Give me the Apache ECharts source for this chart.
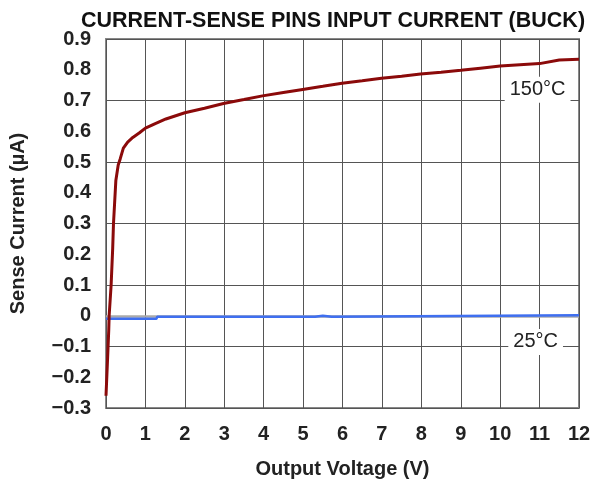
<!DOCTYPE html>
<html>
<head>
<meta charset="utf-8">
<script src="https://cdn.jsdelivr.net/npm/echarts@6/dist/echarts.min.js"></script>
<style>
  html, body { margin: 0; padding: 0; background: #fff; }
  #main { width: 595px; height: 479px; }
</style>
</head>
<body>
<div id="main"></div>
<script>
// 150°C curve (output voltage V, sense current uA)
var hotV = [0.0, 0.04, 0.07, 0.08, 0.13, 0.17, 0.19, 0.22, 0.25, 0.31, 0.36, 0.44, 0.55, 0.68, 0.85, 1.0, 1.25, 1.52, 2.0, 2.5, 2.98, 3.5, 3.97, 4.5, 4.99, 5.5, 5.99, 6.5, 6.99, 7.5, 7.98, 8.5, 9.0, 9.5, 10.0, 10.5, 11.0, 11.5, 12.0];
var hotI = [-0.26, -0.14, -0.045, 0.0, 0.1, 0.22, 0.30, 0.37, 0.44, 0.49, 0.51, 0.545, 0.565, 0.58, 0.595, 0.61, 0.625, 0.64, 0.66, 0.675, 0.69, 0.703, 0.715, 0.726, 0.736, 0.746, 0.756, 0.764, 0.772, 0.779, 0.786, 0.792, 0.798, 0.805, 0.812, 0.816, 0.82, 0.832, 0.834];

// 25°C curve
var roomV = [0.0, 1.28, 1.3, 5.1, 5.3, 5.5, 5.73, 12.0];
var roomI = [-0.01, -0.01, -0.003, -0.003, 0.0, -0.003, 0.002, 0.002];

var xTicks = [0, 1, 2, 3, 4, 5, 6, 7, 8, 9, 10, 11, 12];

function pairs(a, b) { return a.map(function (v, i) { return [v, b[i]]; }); }

var fontFam = '"Liberation Sans", Arial, sans-serif';

var chart = echarts.init(document.getElementById('main'));
chart.setOption({
  animation: false,
  title: {
    text: 'CURRENT-SENSE PINS INPUT CURRENT (BUCK)',
    left: 328, top: 5, textAlign: 'center',
    textStyle: { fontFamily: fontFam, fontWeight: 'bold', fontSize: 21.5, color: '#111' }
  },
  grid: { left: 106, right: 16, top: 39, bottom: 71, show: true, borderColor: '#888', borderWidth: 2,
    outerBoundsMode: 'none', containLabel: false },
  xAxis: {
    type: 'value', min: 0, max: 12, interval: 1,
    name: 'Output Voltage (V)', nameLocation: 'middle', nameGap: 51,
    nameTextStyle: { fontFamily: fontFam, fontWeight: 'bold', fontSize: 20, color: '#222' },
    axisLine: { show: false }, axisTick: { show: false },
    axisLabel: { fontFamily: fontFam, fontWeight: 'bold', fontSize: 20, color: '#222', margin: 16,
      alignMinLabel: 'center', alignMaxLabel: 'center',
      formatter: function (v) { return xTicks.indexOf(v) >= 0 ? String(v) : ''; } },
    splitLine: { show: true, lineStyle: { color: '#555', width: 1 } }
  },
  yAxis: [
    {
      type: 'value', min: -0.3, max: 0.9, interval: 0.1,
      name: 'Sense Current (µA)', nameLocation: 'middle', nameGap: 78, nameRotate: 90,
      nameTextStyle: { fontFamily: fontFam, fontWeight: 'bold', fontSize: 20, color: '#222' },
      axisLine: { show: false }, axisTick: { show: false },
      axisLabel: { fontFamily: fontFam, fontWeight: 'bold', fontSize: 20, color: '#222', margin: 15,
        formatter: function (v) {
          var r = Math.round(v * 10) / 10;
          if (r === 0) return '0';
          return (r < 0 ? '\u2212' : '') + Math.abs(r).toFixed(1);
        } },
      splitLine: { show: false }
    },
    {
      // gridlines every 0.2 counted from -0.3 -> -0.1, 0.1, 0.3, 0.5, 0.7
      type: 'value', min: -0.3, max: 0.9, interval: 0.2, position: 'left',
      axisLine: { show: false }, axisTick: { show: false }, axisLabel: { show: false },
      splitLine: { show: true, lineStyle: { color: '#555', width: 1 } }
    }
  ],
  series: [
    {
      name: 'zero', type: 'line', data: [], silent: true,
      markLine: {
        silent: true, symbol: 'none', label: { show: false },
        lineStyle: { color: '#aaa', width: 2.5, type: 'solid' },
        data: [{ yAxis: 0 }]
      }
    },
    {
      name: '25°C', type: 'line', data: pairs(roomV, roomI), showSymbol: false, step: 'end',
      lineStyle: { color: '#3f6ff0', width: 2.5 }, z: 5,
      markPoint: {
        symbolSize: 0,
        label: { show: true, position: 'inside', formatter: '25°C', fontFamily: fontFam, fontSize: 20, color: '#222',
          backgroundColor: '#fff', padding: [3, 5] },
        data: [{ coord: [10.9, -0.085] }]
      }
    },
    {
      name: '150°C', type: 'line', data: pairs(hotV, hotI), showSymbol: false,
      lineStyle: { color: '#8b0a0a', width: 3 }, z: 6,
      markPoint: {
        symbolSize: 0,
        label: { show: true, position: 'inside', formatter: '150°C', fontFamily: fontFam, fontSize: 20, color: '#222',
          backgroundColor: '#fff', padding: [3, 5] },
        data: [{ coord: [10.95, 0.735] }]
      }
    }
  ]
});
</script>
</body>
</html>
